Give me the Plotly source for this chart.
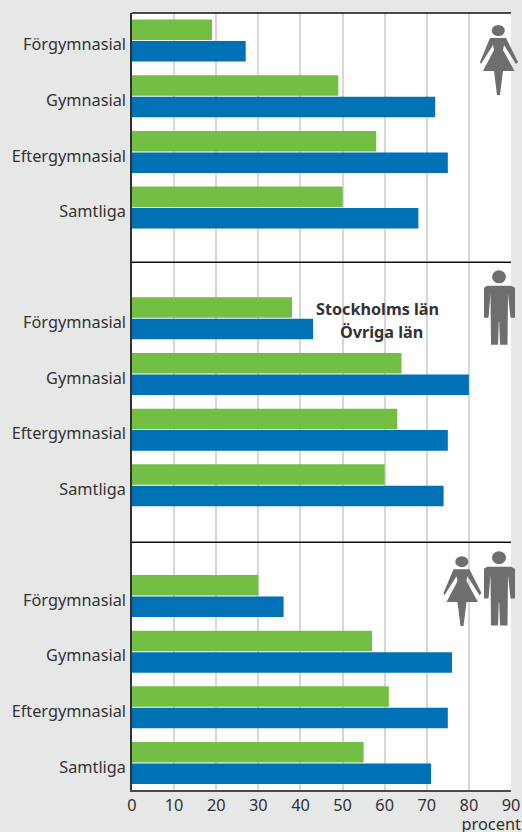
import plotly.graph_objects as go
from plotly.subplots import make_subplots

categories = ["Förgymnasial", "Gymnasial", "Eftergymnasial", "Samtliga"]
stockholm_women = [19, 49, 58, 50]
ovriga_women = [27, 72, 75, 68]
stockholm_men = [38, 64, 63, 60]
ovriga_men = [43, 80, 75, 74]
stockholm_all = [30, 57, 61, 55]
ovriga_all = [36, 76, 75, 71]
x_ticks = [0, 10, 20, 30, 40, 50, 60, 70, 80, 90]

GREEN, BLUE, BG, GRID, TEXT, ICON = "#72bf44", "#0071b5", "#e6e8e7", "#d6d7d7", "#333132", "#6d6e70"
FONT = "Noto Sans"
W, H = 522, 832
L, R, T, B = 132, 511, 13, 790.5


def py(p):
    return (B - p) / (B - T)


def px(p):
    return (p - L) / (R - L)


fig = make_subplots(rows=3, cols=1, shared_xaxes=True, vertical_spacing=0)
panels = [(stockholm_women, ovriga_women), (stockholm_men, ovriga_men), (stockholm_all, ovriga_all)]
edges = [(13, 262.5, 40.6), (262.5, 542.5, 318.5), (542.5, 790.5, 596.4)]
SPACING = 55.7
for i, ((a, b), (top, bot, first)) in enumerate(zip(panels, edges), start=1):
    fig.add_trace(go.Bar(y=categories, x=a, orientation="h", marker=dict(color=GREEN, line_width=0), showlegend=False), row=i, col=1)
    fig.add_trace(go.Bar(y=categories, x=b, orientation="h", marker=dict(color=BLUE, line_width=0), showlegend=False), row=i, col=1)
    fig.update_yaxes(
        row=i, col=1, type="category", categoryorder="array", categoryarray=categories,
        range=[(bot - first) / SPACING, (top - first) / SPACING], automargin=False,
        domain=[py(bot), py(top)], showgrid=False, showline=True, linecolor="#333132", linewidth=1.5,
        ticks="", ticklabelstandoff=1, ticklabelshift=-4, tickfont=dict(family=FONT, size=16.3, color=TEXT), zeroline=False,
    )
    fig.update_xaxes(
        row=i, col=1, range=[0, 90], tickvals=x_ticks, showgrid=True, gridcolor=GRID, gridwidth=1.5, automargin=False,
        zeroline=False, showline=i == 3, linecolor="#4a4a4a", linewidth=1.5, ticks="",
        showticklabels=i == 3, tickfont=dict(family=FONT, size=16.3, color=TEXT),
    )

shapes = []
for y in (13, 262.5, 542.5):
    shapes.append(dict(type="line", xref="paper", yref="paper", x0=0, x1=1, y0=py(y), y1=py(y), line=dict(color="#111", width=1.5)))


def poly(pts, dx=0, dy=0):
    d = "M " + " L ".join(f"{px(x + dx):.5f},{py(y + dy):.5f}" for x, y in pts) + " Z"
    return dict(type="path", xref="paper", yref="paper", path=d, fillcolor=ICON, line_width=0, layer="above")


def head(cx, cy, rx, ry):
    return dict(type="circle", xref="paper", yref="paper", x0=px(cx - rx), x1=px(cx + rx), y0=py(cy + ry), y1=py(cy - ry),
                fillcolor=ICON, line_width=0, layer="above")


woman = [(490, 38), (506, 38), (518, 62), (516, 64), (504, 45), (503, 50), (514.5, 71), (503, 71), (500, 95), (497, 95),
         (494, 71), (483, 71), (494, 50), (493, 45), (481, 64), (480, 62)]
man = [(487, 286), (511, 286), (515, 288), (515, 318), (510.5, 318), (508, 294), (507.5, 345), (500, 345), (499.2, 322),
       (498.8, 322), (498, 345), (491, 345), (490.5, 294), (488.5, 318), (484, 318), (484, 288)]

shapes += [poly(woman), head(498.3, 30.5, 6.5, 5.5)]
shapes += [poly(man), head(499, 277, 7, 6.5)]
shapes += [poly(woman, -36.5, 531.5), head(461.8, 562, 6.5, 5.5)]
shapes += [poly(man, 0, 281), head(499, 558, 7, 6.5)]

annotations = [
    dict(text="<b>Stockholms län</b>", x=px(377), y=py(309), xref="paper", yref="paper", showarrow=False,
         font=dict(family=FONT, size=16.2, color=TEXT)),
    dict(text="<b>Övriga län</b>", x=px(381), y=py(332), xref="paper", yref="paper", showarrow=False,
         font=dict(family=FONT, size=16.2, color=TEXT)),
]

fig.update_layout(
    width=W, height=H, margin=dict(l=L, r=W - R, t=T, b=H - B, pad=0), paper_bgcolor=BG, plot_bgcolor="#ffffff",
    barmode="group", bargap=0.228, bargroupgap=0.045, shapes=shapes, annotations=annotations, showlegend=False,
    title=dict(text="procent", xref="container", yref="container", x=521 / W, xanchor="right", y=1 - 824 / H, yanchor="middle",
               automargin=False, font=dict(family=FONT, size=16.4, color=TEXT)),
)
fig.write_html("out.html", config=dict(displayModeBar=False),
               post_script="document.body.style.margin='0';document.body.style.overflow='hidden';document.body.style.background='" + BG + "';")
